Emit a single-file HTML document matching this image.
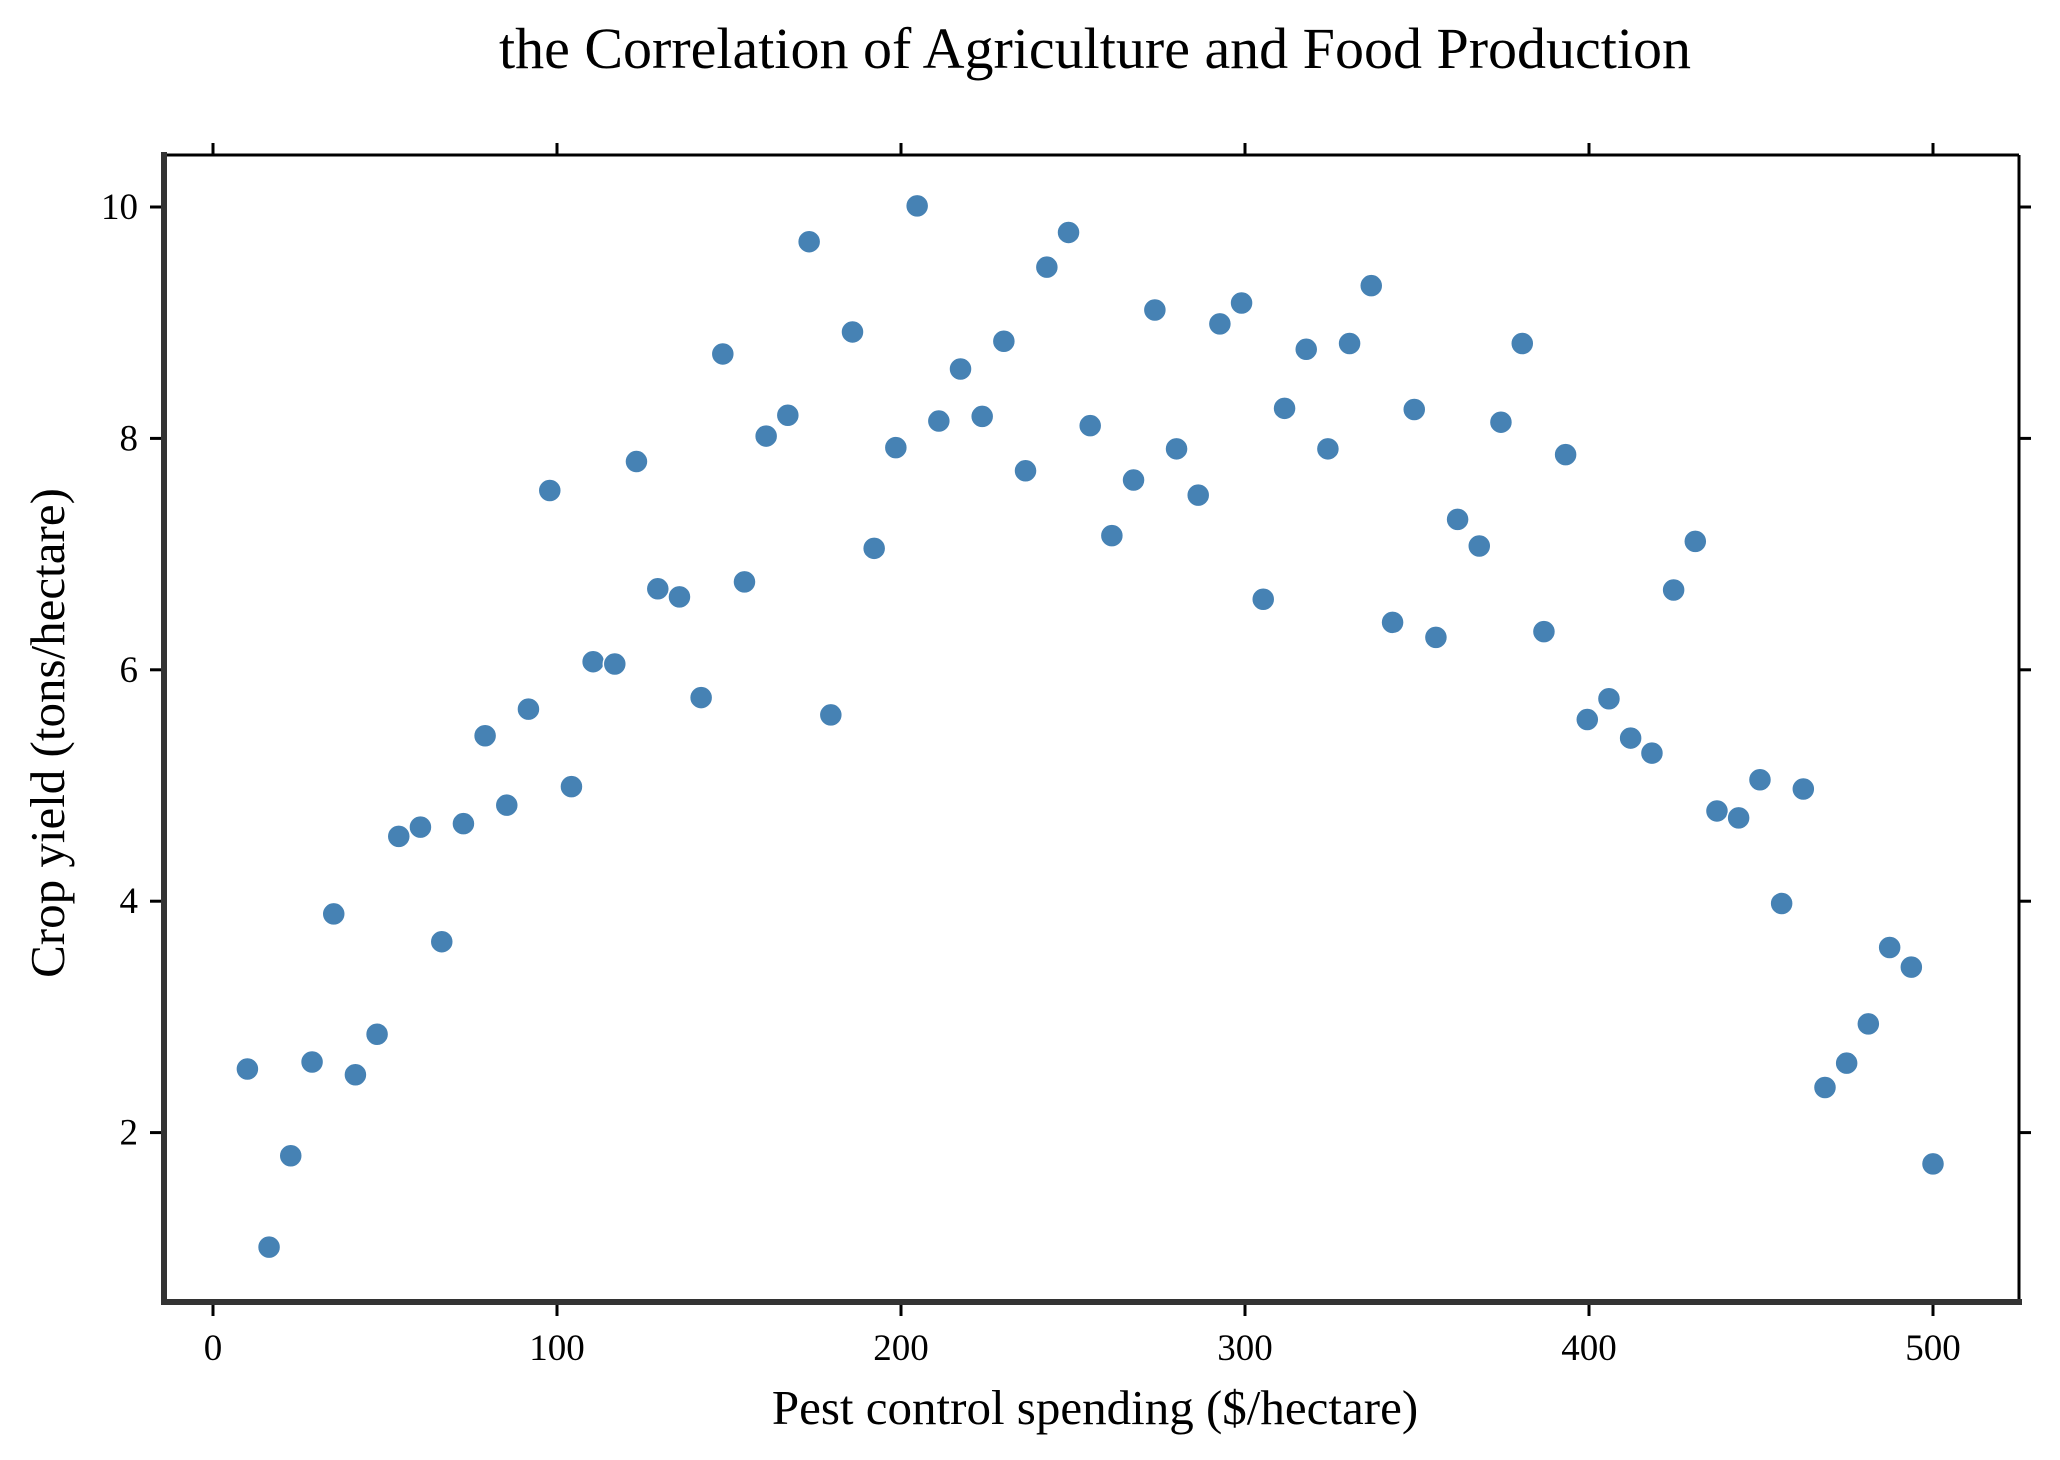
<!DOCTYPE html>
<html><head><meta charset="utf-8"><style>
html,body{margin:0;padding:0;background:#fff;}
svg{display:block;font-family:"Liberation Serif",serif;}
</style></head><body>
<svg id="chart" width="2060" height="1460" viewBox="0 0 2060 1460">
<text x="1095" y="68" text-anchor="middle" font-size="58">the Correlation of Agriculture and Food Production</text>
<text x="1095" y="1424" text-anchor="middle" font-size="49">Pest control spending ($/hectare)</text>
<text transform="translate(64,733) rotate(-90)" text-anchor="middle" font-size="49">Crop yield (tons/hectare)</text>
<g id="ticks"></g>
<g id="points"></g>
<line x1="164" y1="155" x2="2019" y2="155" stroke="#000" stroke-width="3"/>
<line x1="2019" y1="155" x2="2019" y2="1302" stroke="#000" stroke-width="3"/>
<line x1="164" y1="152" x2="164" y2="1305" stroke="#333" stroke-width="6"/>
<line x1="161" y1="1302" x2="2022" y2="1302" stroke="#333" stroke-width="6"/>
</svg>
<script>
const xValues = [10,16.3,22.6,28.8,35.1,41.4,47.7,54.0,60.3,66.5,72.8,79.1,85.4,91.7,97.9,104.2,110.5,116.8,123.1,129.3,135.6,141.9,148.2,154.5,160.8,167.1,173.3,179.6,185.9,192.2,198.5,204.7,211.0,217.3,223.6,229.9,236.2,242.4,248.7,255.0,261.3,267.6,273.8,280.1,286.4,292.7,299.0,305.3,311.5,317.8,324.1,330.4,336.7,342.9,349.2,355.5,361.8,368.1,374.4,380.6,386.9,393.2,399.5,405.8,412.1,418.3,424.6,430.9,437.2,443.5,449.7,456.0,462.3,468.6,474.9,481.2,487.4,493.7,500];
const yValues = [2.55,1.01,1.80,2.61,3.89,2.50,2.85,4.56,4.64,3.65,4.67,5.43,4.83,5.66,7.55,4.99,6.07,6.05,7.80,6.70,6.63,5.76,8.73,6.76,8.02,8.20,9.70,5.61,8.92,7.05,7.92,10.01,8.15,8.60,8.19,8.84,7.72,9.48,9.78,8.11,7.16,7.64,9.11,7.91,7.51,8.99,9.17,6.61,8.26,8.77,7.91,8.82,9.32,6.41,8.25,6.28,7.30,7.07,8.14,8.82,6.33,7.86,5.57,5.75,5.41,5.28,6.69,7.11,4.78,4.72,5.05,3.98,4.97,2.39,2.60,2.94,3.60,3.43,1.73];
const xTicks = [0,100,200,300,400,500];
const yTicks = [2,4,6,8,10];

const NS = "http://www.w3.org/2000/svg";
function sx(v){ return 213 + v * 3.44; }
function sy(v){ return 207 + (10 - v) * 115.7; }
function mk(tag, attrs){ const e = document.createElementNS(NS, tag); for (const k in attrs) e.setAttribute(k, attrs[k]); return e; }

const tg = document.getElementById('ticks');
xTicks.forEach(t => {
  const x = sx(t);
  const b = mk('line', {x1:x, y1:1305, x2:x, y2:1316, stroke:'#000', 'stroke-width':3});
  
  
  tg.appendChild(b);
  const tp = mk('line', {x1:x, y1:155, x2:x, y2:143, stroke:'#000', 'stroke-width':3});
  
  
  tg.appendChild(tp);
  const lb = mk('text', {x:x, y:1360, 'text-anchor':'middle', 'font-size':37});
  lb.textContent = t;
  
  
  tg.appendChild(lb);
});
yTicks.forEach(t => {
  const y = sy(t);
  const l = mk('line', {x1:150, y1:y, x2:161, y2:y, stroke:'#000', 'stroke-width':3});
  
  
  tg.appendChild(l);
  const r = mk('line', {x1:2019, y1:y, x2:2031, y2:y, stroke:'#000', 'stroke-width':3});
  
  
  tg.appendChild(r);
  const lb = mk('text', {x:138, y:y + 12, 'text-anchor':'end', 'font-size':37});
  lb.textContent = t;
  
  
  tg.appendChild(lb);
});

const pg = document.getElementById('points');
xValues.forEach((xv, i) => {
  const c = mk('circle', {cx:sx(xv), cy:sy(yValues[i]), r:11.5, fill:'#4682b4', stroke:'#fff', 'stroke-width':1.5});
  
  
  pg.appendChild(c);
});
</script>
</body></html>
